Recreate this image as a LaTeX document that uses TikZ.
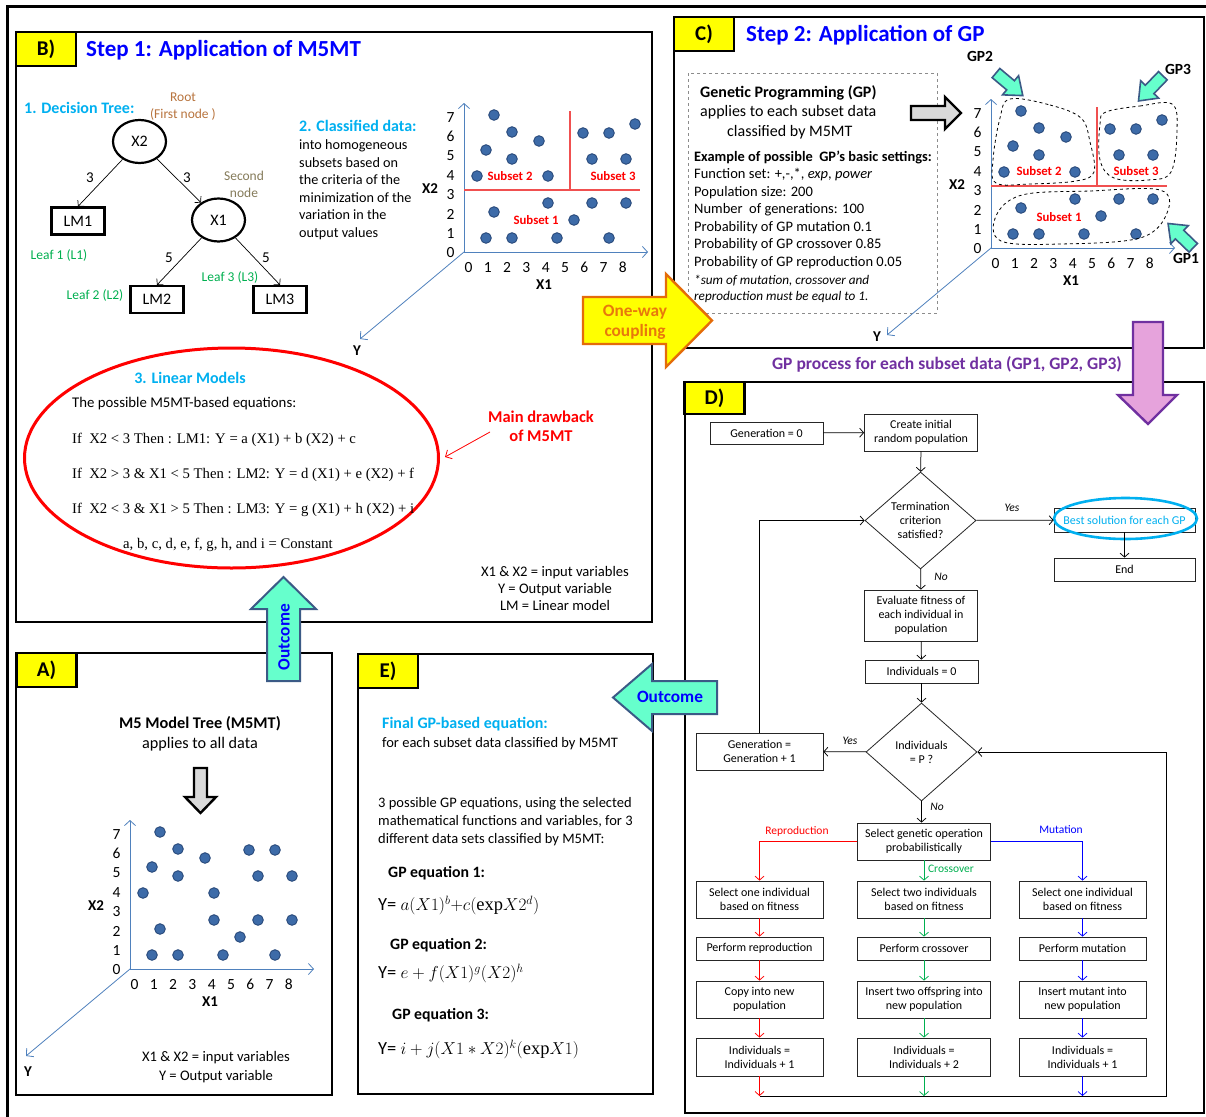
\documentclass[tikz,border=0pt]{standalone}
\usepackage{fontspec}
\setmainfont{Carlito}
\newfontfamily\eqserif{Liberation Serif}
\usetikzlibrary{arrows.meta,shapes.geometric,calc}

\definecolor{tagyellow}{HTML}{FFFF00}
\definecolor{titleblue}{HTML}{0000FF}
\definecolor{headcyan}{HTML}{00B0F0}
\definecolor{axisblue}{HTML}{4F81BD}
\definecolor{dotfill}{HTML}{3D6BA8}
\definecolor{dotrim}{HTML}{28497A}
\definecolor{rootbrown}{HTML}{B8743E}
\definecolor{nodeolive}{HTML}{857B5A}
\definecolor{leafgreen}{HTML}{00B050}
\definecolor{coupleedge}{HTML}{E46C0A}
\definecolor{coupletext}{HTML}{E8780C}
\definecolor{aqua}{HTML}{66FFCC}
\definecolor{aquaedge}{HTML}{3B5A86}
\definecolor{gpurple}{HTML}{7030A0}
\definecolor{pinkfill}{HTML}{E6A3DC}
\definecolor{arrowgray}{HTML}{D9D9D9}
\definecolor{dashgray}{HTML}{8C8C8C}
\definecolor{mutblue}{HTML}{0000FF}
\definecolor{subsetred}{HTML}{FF0000}
\definecolor{splitred}{HTML}{F05050}

% upright function name in the equations of panel E
\newcommand{\fnexp}{\hbox{\eqserif exp}}

\tikzset{
  % text box of fixed height so that a line is centred on its cap height
  vc/.code={\pgfmathsetmacro\vcheight{0.64*#1}\tikzset{text height=\vcheight pt, text depth=0pt}},
  tf/.style={font=\fontsize{#1}{#1}\selectfont, vc=#1},
  tfb/.style={font=\fontsize{#1}{#1}\selectfont\bfseries, vc=#1},
  tfi/.style={font=\fontsize{#1}{#1}\selectfont\itshape, vc=#1},
  txt/.style={inner sep=0pt},
  panelframe/.style={line width=2.6pt},
  tagbox/.style={draw, line width=2.6pt, fill=tagyellow, minimum width=60pt, minimum height=34pt,
    inner sep=0pt, font=\fontsize{21}{24}\selectfont\bfseries},
  steptitle/.style={txt, anchor=west, text=titleblue, tfb=23},
  bodytxt/.style={txt, tf=14.2},
  settxt/.style={txt, anchor=west, tf=14.5},
  headtxt/.style={txt, text=headcyan, tfb=16},
  smalltxt/.style={txt, tf=13.5},
  eqtxt/.style={txt, anchor=west, font=\eqserif\fontsize{14.7}{16}\selectfont, vc=14.7},
  treenode/.style={ellipse, draw, line width=2.2pt, minimum width=53pt, minimum height=43pt,
    inner sep=0pt, font=\fontsize{16}{18}\selectfont},
  leafbox/.style={draw, line width=2.2pt, minimum width=53pt, minimum height=27pt,
    inner sep=0pt, font=\fontsize{16}{18}\selectfont},
  treearrow/.style={line width=0.7pt, -{Straight Barb[length=4pt,width=9pt]}},
  edgenum/.style={txt, tf=15},
  axisline/.style={draw=axisblue, line width=0.8pt, -{Straight Barb[length=5pt,width=11pt]}},
  ticklbl/.style={txt, tf=15.5},
  axislbl/.style={txt, tfb=15},
  dot/.style={fill=dotfill, draw=dotrim, line width=0.9pt},
  splitline/.style={draw=splitred, line width=1.1pt},
  subsetlbl/.style={txt, text=subsetred, tfb=12.8},
  blob/.style={draw, dashed, line width=0.8pt},
  fc/.style={draw=black!85, line width=0.8pt, align=center, inner sep=1pt,
    font=\fontsize{12}{14}\selectfont},
  fcdia/.style={diamond, draw=black!85, line width=0.8pt, aspect=1.15, minimum width=111pt,
    minimum height=97pt, align=center, inner sep=0pt, font=\fontsize{12}{14}\selectfont},
  fcarrow/.style={line width=0.75pt, -{Straight Barb[length=4pt,width=9pt]}},
  fclbl/.style={txt, tf=11.5},
  fcyesno/.style={txt, tfi=11.5},
  outcometxt/.style={txt, text=titleblue, tfb=17.3},
}

% axes, tick numbers and axis names of one X1-X2-Y sketch
\newcommand{\scatteraxes}[5]{%
  \begin{scope}[shift={(#2,#3)}]
    \draw[axisline] (0,0) -- (184,0);
    \draw[axisline] (0,0) -- (0,-149);
    \draw[axisline] (0,0) -- (-104,87);
    \foreach \i in {0,...,8} \node[ticklbl] (#1x\i) at (4.5+19.3*\i,16) {\i};
    \foreach \j in {0,...,7} \node[ticklbl] (#1y\j) at (-13.5,1-19.4*\j) {\j};
    \node[axislbl] (#1X1) at (80,33) {X1};
    \node[axislbl] (#1X2) at (-34,-63) {X2};
    \node[axislbl] (#1Y) at (#4,#5) {Y};
  \end{scope}}

% data points, given relative to the origin of the sketch
\newcommand{\scatterdots}[3]{%
  \begin{scope}[shift={(#1,#2)}]
    \foreach \p/\q in #3 \filldraw[dot] (\p,\q) circle[radius=5.3pt];
  \end{scope}}

\def\ptsfull{30/-137,48/-120,75/-111,22/-102,48/-93,13/-76,84/-76,119/-119,145/-119,171/-128,
  128/-93,162/-93,30/-40,84/-49,128/-49,162/-49,110/-32,22/-14,48/-14,93/-14,145/-14}
\def\ptsall{30/-137,48/-120,75/-111,22/-102,48/-93,13/-76,84/-76,119/-119,145/-119,
  128/-93,162/-93,30/-40,84/-49,128/-49,162/-49,110/-32,22/-14,48/-14,93/-14,145/-14}

% split of the X1-X2 plane into the three subsets
\newcommand{\subsetsplit}[2]{%
  \begin{scope}[shift={(#1,#2)}]
    \draw[splitline] (0,-62) -- (176,-62);
    \draw[splitline] (106,-141) -- (106,-62);
  \end{scope}}

% small turquoise block arrow pointing east, centred on the origin
\newcommand{\gparrowshape}{%
  \filldraw[fill=aqua, draw=aquaedge, line width=1.6pt, line join=miter]
    (-17,-6) -- (2,-6) -- (2,-12.5) -- (18,0) -- (2,12.5) -- (2,6) -- (-17,6) -- cycle;}

\begin{document}
\begin{tikzpicture}[x=1pt,y=-1pt]
\useasboundingbox (0,0) rectangle (1206,1116);
\fill[white] (0,0) rectangle (1206,1116);

% outer frame
\draw[line width=3pt] (7,1130) -- (7,7) -- (1220,7);

% ---------------- panel frames ----------------
\draw[panelframe] (16,32) rectangle (652,622);
\draw[panelframe] (674,17) rectangle (1204,348);
\draw[panelframe] (685,382) rectangle (1204,1113);
\draw[panelframe] (16,653) rectangle (332,1095);
\draw[panelframe] (358,654) rectangle (653,1094);

% ================= B) Step 1 =================
\node[tagbox] (tagB) at (46,49) {B)};
\node[steptitle] (titleB) at (86,49) {Step 1: Application of M5MT};

\node[headtxt, anchor=west] (dtree) at (24,108) {1. Decision Tree:};
\node[smalltxt, text=rootbrown] (root1) at (183,97) {Root};
\node[smalltxt, text=rootbrown] (root2) at (183,114) {(First node )};
\node[treenode] (tX2) at (139.5,141.5) {X2};
\node[treenode] (tX1) at (218.5,220) {X1};
\node[leafbox] (lm1) at (78,221) {LM1};
\node[leafbox] (lm2) at (157,299.5) {LM2};
\node[leafbox] (lm3) at (280,299.5) {LM3};
\draw[treearrow] (tX2) -- (lm1.north);
\draw[treearrow] (tX2) -- (tX1);
\draw[treearrow] (tX1) -- (lm2.north);
\draw[treearrow] (tX1) -- (lm3.north);
\node[edgenum] (e31) at (90,178) {3};
\node[edgenum] (e32) at (187,178) {3};
\node[edgenum] (e51) at (169,258) {5};
\node[edgenum] (e52) at (266,258) {5};
\node[smalltxt, text=nodeolive] (sec1) at (244,176) {Second};
\node[smalltxt, text=nodeolive] (sec2) at (244,193) {node};
\node[smalltxt, text=leafgreen] (leaf1) at (59,255) {Leaf 1 (L1)};
\node[smalltxt, text=leafgreen] (leaf2) at (95,295) {Leaf 2 (L2)};
\node[smalltxt, text=leafgreen] (leaf3) at (230,277) {Leaf 3 (L3)};

\node[headtxt, anchor=west] (clshead) at (299,126) {2. Classified data:};
\foreach \t [count=\k from 0] in {{into homogeneous},{subsets based on},{the criteria of the},
    {minimization of the},{variation in the},{output values}}
  \node[bodytxt, anchor=west] (cls\k) at (299,145+17.6*\k) {\t};

\scatteraxes{b}{464}{252}{-107}{99}
\subsetsplit{464}{252}
\scatterdots{464}{252}{\ptsfull}
\node[subsetlbl] (bsub2) at (510,176) {Subset 2};
\node[subsetlbl] (bsub3) at (613,176) {Subset 3};
\node[subsetlbl] (bsub1) at (536,220) {Subset 1};

\node[draw=red, line width=3pt, ellipse, minimum width=414pt, minimum height=220pt] (lmring) at (231.5,458) {};
\node[headtxt] (lmhead) at (190,378) {3. Linear Models};
\node[txt, anchor=west, tf=14.8] (lmintro) at (72,403) {The possible M5MT-based equations:};
\node[eqtxt] (lmeq1) at (72,439) {If~~X2 < 3 Then : LM1: Y = a (X1) + b (X2) + c};
\node[eqtxt] (lmeq2) at (72,474) {If~~X2 > 3 \& X1 < 5 Then : LM2: Y = d (X1) + e (X2) + f};
\node[eqtxt] (lmeq3) at (72,509) {If~~X2 < 3 \& X1 > 5 Then : LM3: Y = g (X1) + h (X2) + i};
\node[eqtxt, anchor=center] (lmconst) at (228,544) {a, b, c, d, e, f, g, h, and i = Constant};

\node[txt, text=red, tfb=16.5] (drawb1) at (541,417) {Main drawback};
\node[txt, text=red, tfb=16.5] (drawb2) at (541,436) {of M5MT};
\coordinate (dbstart) at (490,432);
\coordinate (dbtip) at (445,457);
\draw[red, line width=0.8pt, -{Straight Barb[length=5pt,width=10pt]}] (dbstart) -- (dbtip);

\node[txt, tf=14.6] (blegend1) at (555,572) {X1 \& X2 = input variables};
\node[txt, tf=14.6] (blegend2) at (555,589) {Y = Output variable};
\node[txt, tf=14.6] (blegend3) at (555,606) {LM = Linear model};

% ================= C) Step 2 =================
\node[tagbox] (tagC) at (704,34) {C)};
\node[steptitle] (titleC) at (746,34) {Step 2: Application of GP};

\draw[dashgray, dashed, line width=0.8pt] (688,73) rectangle (937,313);
\node[txt, anchor=west, tfb=16] (gptitle) at (700,92) {Genetic Programming (GP)};
\node[txt, anchor=west, tf=16] (gpapp1) at (700,111) {applies to each subset data};
\node[txt, anchor=west, tf=16] (gpapp2) at (727,131) {classified by M5MT};
\node[txt, anchor=west, tfb=14.4] (gpset0) at (694,157) {Example of possible~ GP’s basic settings:};
\node[settxt] (gpset1) at (694,173.5) {Function set: +,-,*, \textit{exp}, \textit{power}};
\node[settxt] (gpset2) at (694,191.5) {Population size: 200};
\node[settxt] (gpset3) at (694,209) {Number~ of generations: 100};
\node[settxt] (gpset4) at (694,226.5) {Probability of GP mutation 0.1};
\node[settxt] (gpset5) at (694,244) {Probability of GP crossover 0.85};
\node[settxt] (gpset6) at (694,261.5) {Probability of GP reproduction 0.05};
\node[txt, anchor=west, tfi=13.2] (gpset7) at (694,280) {*sum of mutation, crossover and};
\node[txt, anchor=west, tfi=13.2] (gpset8) at (694,296) {reproduction must be equal to 1.};

% grey block arrow towards the subsets
\filldraw[fill=arrowgray, draw=black, line width=2.4pt, line join=miter]
  (911,106) -- (945,106) -- (945,97) -- (961,113) -- (945,129) -- (945,120) -- (911,120) -- cycle;

\scatteraxes{c}{991}{248}{-114}{89}
\subsetsplit{991}{248}
\scatterdots{991}{248}{\ptsfull}
\node[subsetlbl] (csub2) at (1039,171) {Subset 2};
\node[subsetlbl] (csub3) at (1136,171) {Subset 3};
\node[subsetlbl] (csub1) at (1059,217) {Subset 1};

% dashed outlines of the three subsets
\draw[blob] plot[smooth cycle, tension=0.6] coordinates
  {(1010,99) (1050,105) (1081,118) (1090,142) (1094,172) (1076,181) (1030,184) (996,183) (993,160) (1000,118)};
\draw[blob] plot[smooth cycle, tension=0.6] coordinates
  {(1106,112) (1140,106) (1172,104) (1177,130) (1171,172) (1148,180) (1114,178) (1100,160) (1100,124)};
\draw[blob] plot[smooth cycle, tension=0.6] coordinates
  {(1022,195) (1090,191) (1160,190) (1167,213) (1140,238) (1060,244) (1001,241) (996,216)};

% pointers to the subsets
\begin{scope}[shift={(1009,84)}, rotate=-40] \gparrowshape \end{scope}
\begin{scope}[shift={(1151,88)}, rotate=-134] \gparrowshape \end{scope}
\begin{scope}[shift={(1181,236)}, rotate=136] \gparrowshape \end{scope}
\node[txt, tfb=15.5] (gp2lbl) at (980,57) {GP2};
\node[txt, tfb=15.5] (gp3lbl) at (1178,70) {GP3};
\node[txt, tfb=15.5] (gp1lbl) at (1186,259) {GP1};

% ================= D) GP flowchart =================
\node[tagbox, minimum height=32pt] (tagD) at (714.5,398) {D)};

\node[fc, minimum width=113pt, minimum height=22pt] (gen0) at (766.5,433) {Generation = 0};
\node[fc, minimum width=113pt, minimum height=37pt] (create) at (921,432.5) {Create initial\\random population};
\node[fcdia] (term) at (920.5,520.5) {Termination\\criterion\\satisfied?};
\node[fc, text=headcyan, minimum width=141pt, minimum height=24pt] (best) at (1124.5,520) {Best solution for each GP};
\node[draw=headcyan, line width=2.6pt, ellipse, minimum width=143pt, minimum height=41pt] (bestring) at (1125.5,518.5) {};
\node[fc, minimum width=141pt, minimum height=23pt] (endbox) at (1124.5,569.5) {End};
\node[fc, minimum width=113pt, minimum height=51pt] (evalfit) at (921,615.5) {Evaluate fitness of\\each individual in\\population};
\node[fc, minimum width=113pt, minimum height=23pt] (ind0) at (921.5,671.5) {Individuals = 0};
\node[fcdia, minimum height=98pt] (indp) at (921.5,752) {Individuals\\= P ?};
\node[fc, minimum width=127pt, minimum height=37pt] (genplus) at (759.5,751.5) {Generation =\\Generation + 1};
\node[fc, minimum width=133pt, minimum height=37pt] (selop) at (924,841.5) {Select genetic operation\\probabilistically};

\node[fc, minimum width=127pt, minimum height=37pt] (r1a) at (759.5,899.5) {Select one individual\\based on fitness};
\node[fc, minimum width=127pt, minimum height=23pt] (r2a) at (759.5,948.5) {Perform reproduction};
\node[fc, minimum width=127pt, minimum height=37pt] (r3a) at (759.5,999.5) {Copy into new\\population};
\node[fc, minimum width=127pt, minimum height=38pt] (r4a) at (759.5,1057) {Individuals =\\Individuals + 1};
\node[fc, minimum width=133pt, minimum height=37pt] (r1b) at (924,899.5) {Select two individuals\\based on fitness};
\node[fc, minimum width=133pt, minimum height=23pt] (r2b) at (924,948.5) {Perform crossover};
\node[fc, minimum width=133pt, minimum height=37pt] (r3b) at (924,999.5) {Insert two offspring into\\new population};
\node[fc, minimum width=133pt, minimum height=38pt] (r4b) at (924,1057) {Individuals =\\Individuals + 2};
\node[fc, minimum width=127pt, minimum height=37pt] (r1c) at (1082.5,899.5) {Select one individual\\based on fitness};
\node[fc, minimum width=127pt, minimum height=23pt] (r2c) at (1082.5,948.5) {Perform mutation};
\node[fc, minimum width=127pt, minimum height=37pt] (r3c) at (1082.5,999.5) {Insert mutant into\\new population};
\node[fc, minimum width=127pt, minimum height=38pt] (r4c) at (1082.5,1057) {Individuals =\\Individuals + 1};

\coordinate (loopbase) at (1166,1096);

\draw[fcarrow] (gen0) -- (create);
\draw[fcarrow] (create) -- (term);
\draw[fcarrow] (term) -- (best);
\draw[fcarrow] (best) -- (endbox);
\draw[fcarrow] (term) -- (evalfit);
\draw[fcarrow] (evalfit) -- (ind0);
\draw[fcarrow] (ind0) -- (indp);
\draw[fcarrow] (indp) -- (genplus);
\draw[fcarrow] (genplus.north) |- (term.west);
\draw[fcarrow] (indp.south) -- (indp.south |- selop.north);
\draw[fcarrow, red] (selop.west) -| (r1a.north);
\draw[fcarrow, leafgreen] (selop) -- (r1b);
\draw[fcarrow, mutblue] (selop.east) -| (r1c.north);
\foreach \c/\col in {a/red, b/leafgreen, c/mutblue} {
  \draw[fcarrow, \col] (r1\c) -- (r2\c);
  \draw[fcarrow, \col] (r2\c) -- (r3\c);
  \draw[fcarrow, \col] (r3\c) -- (r4\c);
  \draw[fcarrow, \col] (r4\c) -- (r4\c.south |- loopbase);
}
\draw[fcarrow] (r4a.south |- loopbase) -- (loopbase) |- (indp.east);

\node[fcyesno] (yes1) at (1012,508) {Yes};
\node[fcyesno] (no1) at (941,577) {No};
\node[fcyesno] (yes2) at (850,741) {Yes};
\node[fcyesno] (no2) at (937,807) {No};
\node[fclbl, text=red] (lblrep) at (797,831) {Reproduction};
\node[fclbl, text=mutblue] (lblmut) at (1061,830) {Mutation};
\node[fclbl, text=leafgreen] (lblcro) at (951,869) {Crossover};

% ================= A) M5MT =================
\node[tagbox] (tagA) at (46.5,670) {A)};
\node[txt, tfb=16.3] (m5title) at (200,723) {M5 Model Tree (M5MT)};
\node[txt, tf=16.2] (m5app) at (200,743) {applies to all data};
\filldraw[fill=arrowgray, draw=black, line width=2.4pt, line join=miter]
  (194,768) -- (207,768) -- (207,797) -- (216,797) -- (200.5,813) -- (185,797) -- (194,797) -- cycle;
\scatteraxes{a}{130}{969}{-102}{103}
\scatterdots{130}{969}{\ptsall}
\node[txt, tf=14.6] (alegend1) at (216,1057) {X1 \& X2 = input variables};
\node[txt, tf=14.6] (alegend2) at (216,1076) {Y = Output variable};

% ================= E) final equations =================
\node[tagbox] (tagE) at (388,671) {E)};
\node[headtxt, anchor=west] (ehead) at (382,723) {Final GP-based equation:};
\node[txt, anchor=west, tf=14.5] (esub) at (382,743) {for each subset data classified by M5MT};
\node[txt, anchor=west, tf=14.5] (eintro1) at (378,803) {3 possible GP equations, using the selected};
\node[txt, anchor=west, tf=14.5] (eintro2) at (378,821) {mathematical functions and variables, for 3};
\node[txt, anchor=west, tf=14.5] (eintro3) at (378,839) {different data sets classified by M5MT:};
\node[txt, anchor=west, tfb=15.8] (eq1head) at (388,872) {GP equation 1:};
\node[txt, anchor=west, tf=18.5] (eq1) at (378,905) {Y= $a(X1)^{b}{+}c(\fnexp X2^{d})$};
\node[txt, anchor=west, tfb=15.8] (eq2head) at (390,944) {GP equation 2:};
\node[txt, anchor=west, tf=18.5] (eq2) at (378,973) {Y= $e+f(X1)^{g}(X2)^{h}$};
\node[txt, anchor=west, tfb=15.8] (eq3head) at (392,1014) {GP equation 3:};
\node[txt, anchor=west, tf=18.5] (eq3) at (378,1049) {Y= $i+j(X1\ast X2)^{k}(\fnexp X1)$};

% ================= connecting block arrows =================
% one-way coupling from M5MT to GP
\filldraw[fill=tagyellow, draw=coupleedge, line width=2.4pt, line join=miter]
  (583,297) -- (666,297) -- (666,274) -- (712,320.5) -- (666,367) -- (666,344) -- (583,344) -- cycle;
\node[txt, text=coupletext, tfb=17.3] (couple1) at (635,311) {One-way};
\node[txt, text=coupletext, tfb=17.3] (couple2) at (635,331) {coupling};

% outcome of A feeding B
\filldraw[fill=aqua, draw=aquaedge, line width=2pt, line join=miter]
  (267,681) -- (267,609) -- (251,609) -- (283.5,577) -- (316,609) -- (300,609) -- (300,681) -- cycle;
\node[outcometxt, rotate=90] (outup) at (284,637) {Outcome};

% outcome of D feeding E
\filldraw[fill=aqua, draw=aquaedge, line width=2pt, line join=miter]
  (717,681) -- (652,681) -- (652,664) -- (613,697.5) -- (652,731) -- (652,714) -- (717,714) -- cycle;
\node[outcometxt] (outleft) at (670,697) {Outcome};

% GP process for each subset
\node[txt, text=gpurple, tfb=17.5] (gpproc) at (947,364) {GP process for each subset data (GP1, GP2, GP3)};
\filldraw[fill=pinkfill, draw=gpurple, line width=2.4pt, line join=miter]
  (1133,322) -- (1163,322) -- (1163,395) -- (1177,395) -- (1148,424) -- (1118,395) -- (1133,395) -- cycle;

\end{tikzpicture}
\end{document}
